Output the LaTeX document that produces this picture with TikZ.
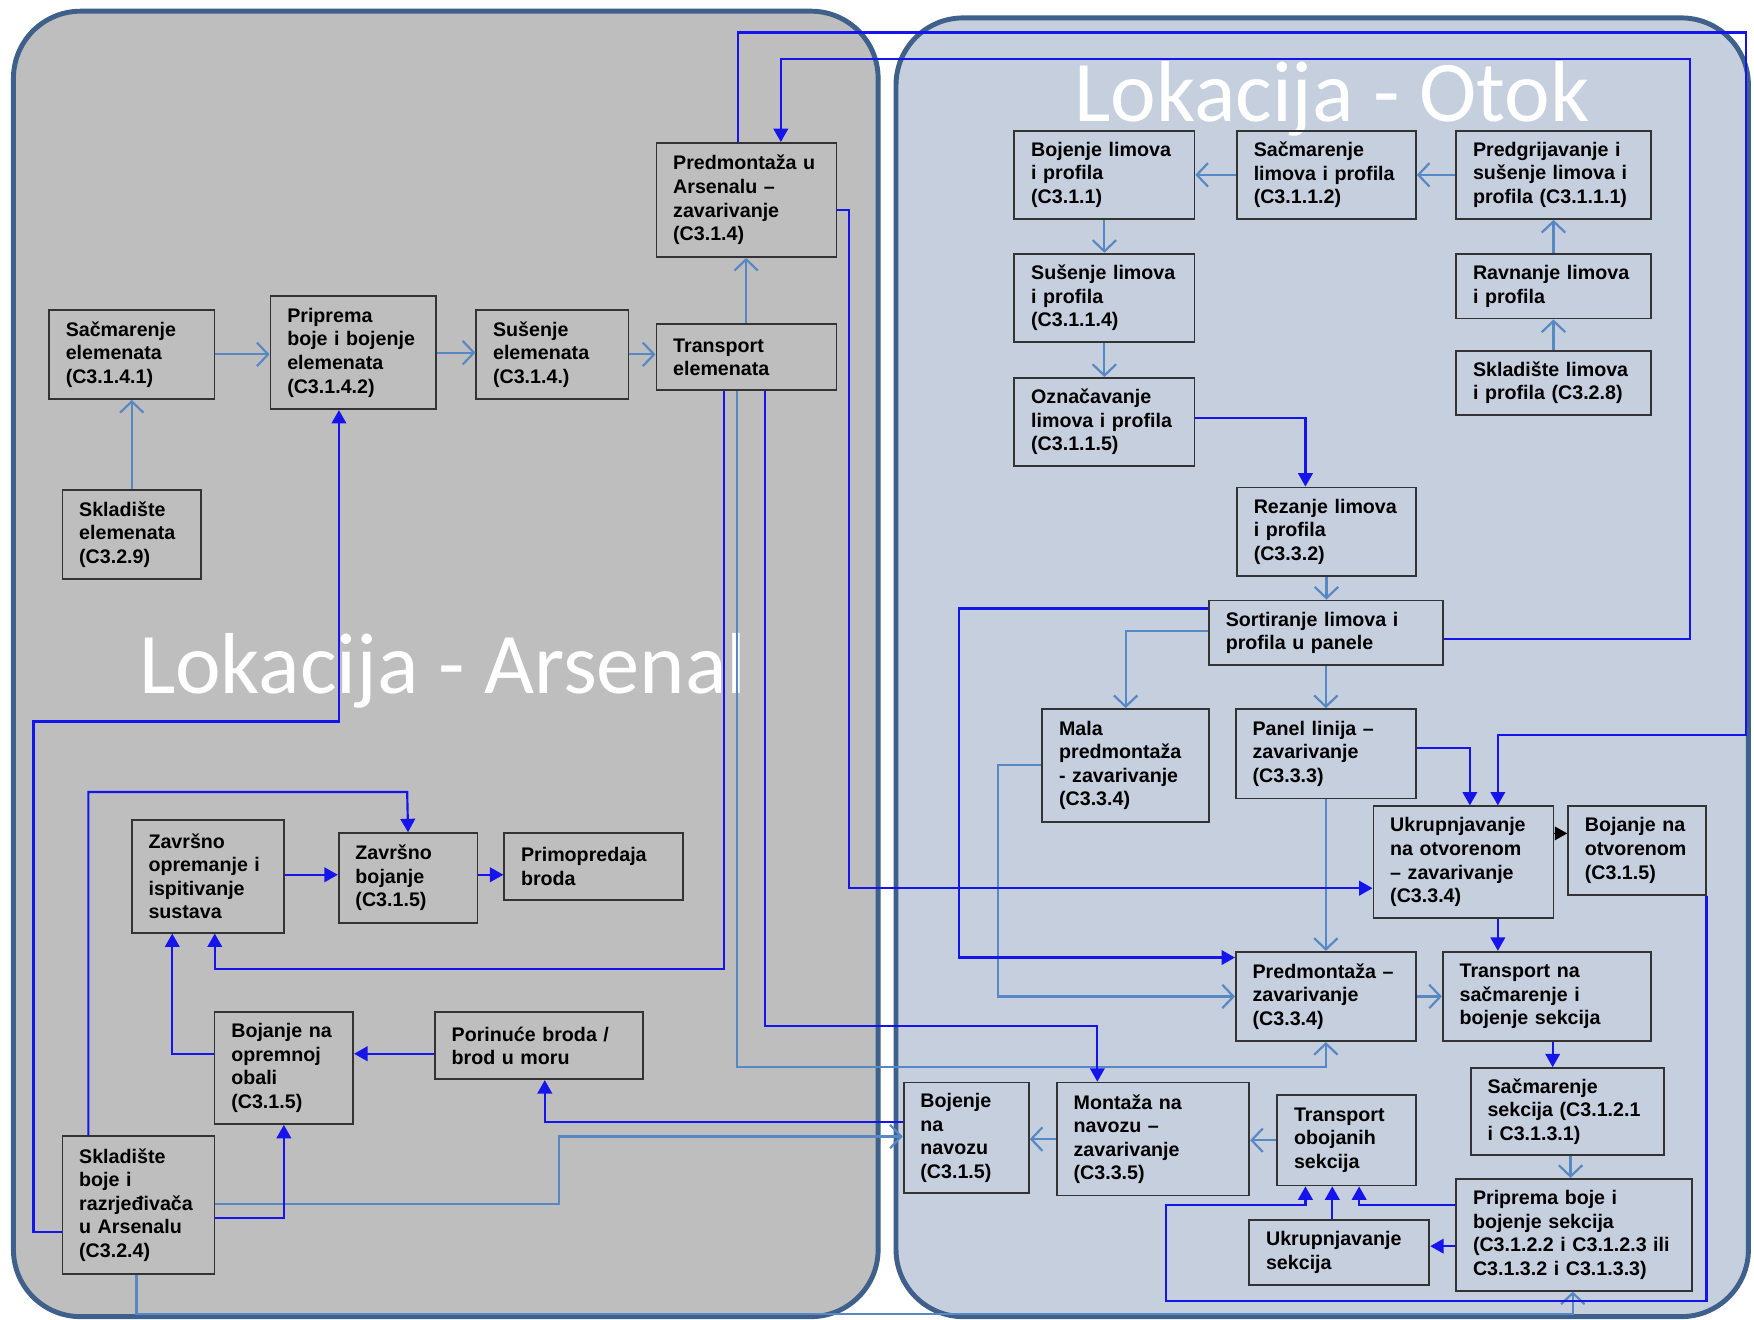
\documentclass[tikz,border=0pt]{standalone}
\usepackage{fontspec}
\setmainfont{Liberation Sans}
\newfontfamily\titlefont{Carlito}
\usetikzlibrary{arrows.meta}
\definecolor{arsgray}{RGB}{190,190,190}
\definecolor{otokblue}{RGB}{197,207,222}
\definecolor{rimblue}{RGB}{62,96,138}
\definecolor{ltblue}{RGB}{88,136,196}
\definecolor{dkblue}{RGB}{20,20,235}

\begin{document}
\begin{tikzpicture}[x=0.02cm,y=-0.02cm,
    box/.style 2 args={draw=black!80,line width=0.9pt,anchor=north west,align=left,inner xsep=0.3cm,inner ysep=0pt,text width=#1cm,minimum height=#2cm,font=\bfseries\fontsize{10}{12}\selectfont},
    panel/.style={draw=rimblue,line width=2.5pt,rounded corners=1.2cm},
    title/.style={text=white,anchor=base west,inner sep=0pt,text depth=0pt,font=\titlefont\fontsize{44}{44}\selectfont},
    lt/.style={ltblue,line width=1.1pt,-{Straight Barb[length=0.2cm,width=0.42cm]}},
    dk/.style={dkblue,line width=1.1pt,-{Triangle[length=0.24cm,width=0.26cm]}},
    blk/.style={black,line width=0.8pt,-{Triangle[length=0.22cm,width=0.24cm]}}]
  \fill[white] (0,0) rectangle (1568,1180);
  \useasboundingbox (0,0) rectangle (1568,1180);
  \draw[panel,fill=arsgray] (12,10) rectangle (785,1177);
  \draw[panel,fill=otokblue] (801,16) rectangle (1563,1177);
  \node[title] (tars) at (124,620) {Lokacija - Arsenal};
  \node[title] (totok) at (960,109) {Lokacija - Otok};

  \node[box={2.36}{1.6}] (sacel) at (43,276) {Sačmarenje\\elemenata\\(C3.1.4.1)};
  \node[box={2.36}{2.02}] (pripel) at (241,264) {Priprema\\boje i bojenje\\elemenata\\(C3.1.4.2)};
  \node[box={2.12}{1.6}] (susel) at (425,276) {Sušenje\\elemenata\\(C3.1.4.)};
  \node[box={2.62}{1.18}] (trel) at (586,289) {Transport\\elemenata};
  \node[box={2.62}{2.04}] (predars) at (586,127) {Predmontaža u\\Arsenalu –\\zavarivanje\\(C3.1.4)};
  \node[box={1.88}{1.6}] (sklel) at (55,437) {Skladište\\elemenata\\(C3.2.9)};
  \node[box={2.12}{2.02}] (zavop) at (117,732) {Završno\\opremanje i\\ispitivanje\\sustava};
  \node[box={1.88}{1.6}] (zavboj) at (302,744) {Završno\\bojanje\\(C3.1.5)};
  \node[box={2.6}{1.2}] (primo) at (450,744) {Primopredaja\\broda};
  \node[box={1.88}{2.0}] (bojobala) at (191,904) {Bojanje na\\opremnoj\\obali\\(C3.1.5)};
  \node[box={3.12}{1.2}] (porin) at (388,904) {Porinuće broda /\\brod u moru};
  \node[box={2.12}{2.46}] (sklboj) at (55,1015) {Skladište\\boje i\\razrjeđivača\\u Arsenalu\\(C3.2.4)};

  \node[box={2.62}{1.58}] (bojlim) at (906,116) {Bojenje limova\\i profila\\(C3.1.1)};
  \node[box={2.6}{1.58}] (saclim) at (1105,116) {Sačmarenje\\limova i profila\\(C3.1.1.2)};
  \node[box={2.88}{1.58}] (predgr) at (1301,116) {Predgrijavanje i\\sušenje limova i\\profila (C3.1.1.1)};
  \node[box={2.62}{1.58}] (suslim) at (906,226) {Sušenje limova\\i profila\\(C3.1.1.4)};
  \node[box={2.88}{1.16}] (ravn) at (1301,226) {Ravnanje limova\\i profila};
  \node[box={2.88}{1.14}] (skllim) at (1301,313) {Skladište limova\\i profila (C3.2.8)};
  \node[box={2.62}{1.58}] (ozn) at (906,337) {Označavanje\\limova i profila\\(C3.1.1.5)};
  \node[box={2.6}{1.58}] (rez) at (1105,435) {Rezanje limova\\i profila\\(C3.3.2)};
  \node[box={3.58}{1.16}] (sort) at (1080,536) {Sortiranje limova i\\profila u panele};
  \node[box={2.38}{2.02}] (mala) at (931,633) {Mala\\predmontaža\\- zavarivanje\\(C3.3.4)};
  \node[box={2.62}{1.6}] (panel) at (1104,633) {Panel linija –\\zavarivanje\\(C3.3.3)};
  \node[box={2.62}{2.0}] (ukotv) at (1227,720) {Ukrupnjavanje\\na otvorenom\\– zavarivanje\\(C3.3.4)};
  \node[box={1.86}{1.58}] (bojotv) at (1401,720) {Bojanje na\\otvorenom\\(C3.1.5)};
  \node[box={2.62}{1.6}] (predzav) at (1104,850) {Predmontaža –\\zavarivanje\\(C3.3.4)};
  \node[box={3.12}{1.6}] (trsac) at (1289,850) {Transport na\\sačmarenje i\\bojenje sekcija};
  \node[box={2.86}{1.56}] (sacsek) at (1314,954) {Sačmarenje\\sekcija (C3.1.2.1\\i C3.1.3.1)};
  \node[box={3.62}{2.0}] (pripsek) at (1301,1053) {Priprema boje i\\bojenje sekcija\\(C3.1.2.2 i C3.1.2.3 ili\\C3.1.3.2 i C3.1.3.3)};
  \node[box={1.64}{1.98}] (bojnav) at (807,967) {Bojenje\\na\\navozu\\(C3.1.5)};
  \node[box={2.84}{2.02}] (mont) at (944,967) {Montaža na\\navozu –\\zavarivanje\\(C3.3.5)};
  \node[box={1.88}{1.62}] (trobo) at (1141,978) {Transport\\obojanih\\sekcija};
  \node[box={2.62}{1.16}] (uksek) at (1116,1090) {Ukrupnjavanje\\sekcija};

  \draw[lt] (sacel.east) -- (sacel.east -| pripel.west);
  \draw[lt] (pripel.east) -- (pripel.east -| susel.west);
  \draw[lt] (susel.east) -- (susel.east -| trel.west);
  \draw[lt] (trel.north -| 667,0) -- (predars.south -| 667,0);
  \draw[lt] (sklel.north) -- (sklel.north |- sacel.south);
  \draw[lt] (predgr.west) -- (predgr.west -| saclim.east);
  \draw[lt] (saclim.west) -- (saclim.west -| bojlim.east);
  \draw[lt] (bojlim.south) -- (suslim.north);
  \draw[lt] (suslim.south) -- (ozn.north);
  \draw[lt] (ravn.north) -- (predgr.south);
  \draw[lt] (skllim.north) -- (ravn.south);
  \draw[lt] (rez.south) -- (rez.south |- sort.north);
  \draw[lt] (sort.west |- 0,564) -| (mala.north);
  \draw[lt] (panel.north |- sort.south) -- (panel.north);
  \draw[lt] (panel.south) -- (predzav.north);
  \draw[lt] (mala.west |- 0,684) -- (892,684) |- (predzav.west);
  \draw[lt] (predzav.east) -- (predzav.east -| trsac.west);
  \draw[lt] (sacsek.south -| 1404,0) -- (pripsek.north -| 1404,0);
  \draw[lt] (trobo.west) -- (trobo.west -| mont.east);
  \draw[lt] (mont.west) -- (mont.west -| bojnav.east);
  \draw[lt] (sklboj.east |- 0,1076) -- (500,1076) |- (bojnav.west |- 0,1016);
  \draw[lt] (trel.south -| 659,0) |- (predzav.south |- 0,954) -- (predzav.south);
  \draw[lt] (sklboj.south -| 122,0) |- (1406,1175) -- (pripsek.south -| 1406,0);

  \draw[dk] (predars.north -| 660,0) |- (1561,29) |- (1339,657) -- (ukotv.north -| 1339,0);
  \draw[dk] (sort.east |- 0,571) -| (1511,53) -| (predars.north -| 698,0);
  \draw[dk] (predars.east |- 0,188) -| (759,794) -- (ukotv.west |- 0,794);
  \draw[dk] (ozn.east |- 0,374) -| (rez.north -| 1167,0);
  \draw[dk] (sort.west |- 0,544) -| (857,856) -- (predzav.west |- 0,856);
  \draw[dk] (panel.east |- 0,669) -| (ukotv.north -| 1314,0);
  \draw[blk] (ukotv.east |- 0,745) -- (bojotv.west |- 0,745);
  \draw[dk] (ukotv.south -| 1339,0) -- (trsac.north -| 1339,0);
  \draw[dk] (trsac.south -| 1388,0) -- (sacsek.north -| 1388,0);
  \draw[dk] (pripsek.west |- 0,1114) -- (uksek.east |- 0,1114);
  \draw[dk] (uksek.north -| 1191,0) -- (trobo.south -| 1191,0);
  \draw[dk] (pripsek.west |- 0,1077) -| (trobo.south -| 1215,0);
  \draw[dk] (bojotv.south east) |- (1042,1163) -- (1042,1077) -| (trobo.south -| 1167,0);
  \draw[dk] (sklboj.west |- 0,1101) -| (30,645) -| (pripel.south -| 303,0);
  \draw[dk] (sklboj.north -| 79,0) |- (364,708) -- (zavboj.north);
  \draw[dk] (sklboj.east |- 0,1089) -| (bojobala.south);
  \draw[dk] (bojobala.west |- 0,942) -| (zavop.south -| 154,0);
  \draw[dk] (porin.west |- 0,942) -- (bojobala.east |- 0,942);
  \draw[dk] (zavop.east |- 0,782) -- (zavboj.west |- 0,782);
  \draw[dk] (zavboj.east |- 0,782) -- (primo.west |- 0,782);
  \draw[dk] (trel.south -| 647,0) |- (192,866) -- (zavop.south -| 192,0);
  \draw[dk] (trel.south -| 684,0) |- (981,917) -- (mont.north -| 981,0);
  \draw[dk] (bojnav.west |- 0,1003) -| (porin.south -| 487,0);
\end{tikzpicture}
\end{document}
